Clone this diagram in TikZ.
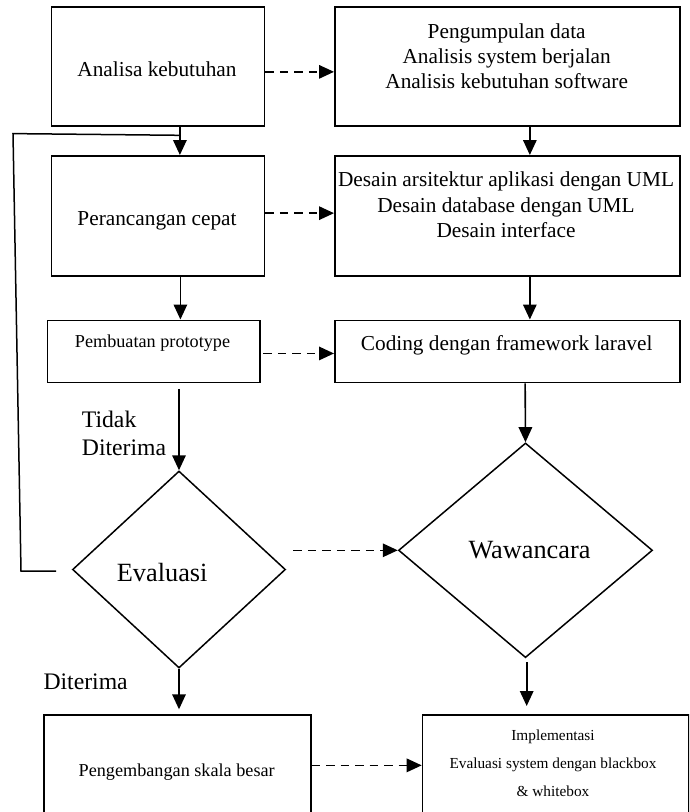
\documentclass[tikz,border=0pt]{standalone}
\usepackage{fontspec}
\setmainfont{Liberation Serif}
\usetikzlibrary{arrows.meta,shapes.geometric,calc}
\begin{document}
\begin{tikzpicture}[x=1pt,y=-1pt,
  box/.style={draw,line width=1.7pt,rectangle,inner sep=0pt,anchor=north west},
  dia/.style={draw,line width=1.5pt,diamond,inner sep=0pt},
  lbl/.style={inner sep=0pt,anchor=base},
  lblw/.style={inner sep=0pt,anchor=base west},
  flow/.style={line width=1.6pt,-{Triangle[length=15pt,width=13.5pt]}},
  dflow/.style={flow,dash pattern=on 8.5pt off 6pt},
  plain/.style={line width=1.5pt},
  fbig/.style={font=\fontsize{21.3}{25}\selectfont},
  fmid/.style={font=\fontsize{18.2}{22}\selectfont},
  fsmall/.style={font=\fontsize{15.3}{18}\selectfont},
  fcond/.style={font=\fontsize{23.7}{28}\selectfont},
  fdia/.style={font=\fontsize{26.3}{30}\selectfont}]
\clip (0,0) rectangle (689,812);
\fill[white] (0,0) rectangle (689,812);

% boxes
\node[box,minimum width=213.1pt,minimum height=119pt] (an) at (50.5,6) {};
\node[box,minimum width=345pt,minimum height=119pt] (pg) at (334,6) {};
\node[box,minimum width=213.1pt,minimum height=120pt] (pc) at (50.5,155) {};
\node[box,minimum width=345pt,minimum height=120pt] (ds) at (334,155) {};
\node[box,minimum width=212.4pt,minimum height=62.2pt] (pb) at (46.6,319.5) {};
\node[box,minimum width=345pt,minimum height=62.2pt] (co) at (334,319.5) {};
\node[box,minimum width=266.7pt,minimum height=100pt] (pe) at (43.3,714) {};
\node[box,minimum width=266.6pt,minimum height=100pt] (im) at (421.7,714) {};

% diamonds
\node[dia,minimum width=213pt,minimum height=197pt] (ev) at (179,569.5) {};
\node[dia,minimum width=254pt,minimum height=214.7pt] (ww) at (525.5,550.3) {};

% texts
\node[lbl,fbig] (t1) at (157,76) {Analisa kebutuhan};
\node[lbl,fbig] (t2a) at (506.7,38) {Pengumpulan data};
\node[lbl,fbig] (t2b) at (506.7,63.3) {Analisis system berjalan};
\node[lbl,fbig] (t2c) at (506.7,88.5) {Analisis kebutuhan software};
\node[lbl,fbig] (t3) at (157,225) {Perancangan cepat};
\node[lbl,fbig] (t4a) at (506,186.7) {Desain arsitektur aplikasi dengan UML};
\node[lbl,fbig] (t4b) at (506,212.3) {Desain database dengan UML};
\node[lbl,fbig] (t4c) at (506,237.5) {Desain interface};
\node[lbl,fmid] (t5) at (152.5,347.5) {Pembuatan prototype};
\node[lbl,fbig] (t6) at (506.7,350.7) {Coding dengan framework laravel};
\node[lblw,fcond] (t7a) at (81.7,427.3) {Tidak};
\node[lblw,fcond] (t7b) at (81.7,455) {Diterima};
\node[lblw,fdia] (t8) at (116.7,581.7) {Evaluasi};
\node[lblw,fdia] (t9) at (468.3,558.3) {Wawancara};
\node[lblw,fcond] (t10) at (43.3,689.3) {Diterima};
\node[lbl,fmid] (t11) at (176.7,776.7) {Pengembangan skala besar};
\node[lbl,fsmall] (t12a) at (553,740.7) {Implementasi};
\node[lbl,fsmall] (t12b) at (553,768.3) {Evaluasi system dengan blackbox};
\node[lbl,fsmall] (t12c) at (553,796.7) {\& whitebox};

% connector end points
\coordinate (s1) at ($(an.south)+(22,0)$);
\coordinate (s2) at ($(pg.south)+(22.5,0)$);
\coordinate (s3) at ($(pc.south)+(22.5,0)$);
\coordinate (s4) at ($(ds.south)+(22.5,0)$);
\coordinate (s5) at ($(ev.north |- pb.south)+(0,5.5)$);
\coordinate (s6) at ($(co.south)+(17.8,0)$);
\coordinate (s7) at ($(ww.south)+(1.2,4)$);
\coordinate (d1) at ($(an.east)+(0,5.5)$);
\coordinate (d2) at ($(pc.east)+(0,-2.7)$);
\coordinate (d3) at ($(pb.east)+(2.7,2)$);
\coordinate (d4) at ($(ev.east |- ww.west)+(7,0)$);
\coordinate (d5) at ($(pe.east)+(0,0.5)$);

% solid arrows
\draw[flow] (s1) -- (s1 |- pc.north);
\draw[flow] (s2) -- (s2 |- ds.north);
\draw[flow] (s3) -- (s3 |- pb.north);
\draw[flow] (s4) -- (s4 |- co.north);
\draw[flow] (s5) -- (ev.north);
\draw[flow] (s6) -- (ww.north);
\draw[flow,shorten >=4.7pt] (ev.south) -- (ev.south |- pe.north);
\draw[flow,shorten >=8pt] (s7) -- (s7 |- im.north);

% dashed arrows
\draw[dflow] (d1) -- (d1 -| pg.west);
\draw[dflow] (d2) -- (d2 -| ds.west);
\draw[dflow] (d3) -- (d3 -| co.west);
\draw[dflow] (d4) -- (ww.west);
\draw[dflow] (d5) -- (d5 -| im.west);

% feedback line
\coordinate (fb1) at ($(an.south)+(22,8.6)$);
\coordinate (fb2) at (13,133.6);
\coordinate (fb3) at (21,571);
\coordinate (fb4) at (56,571);
\draw[plain] (fb1) -- (fb2) -- (fb3) -- (fb4);
\end{tikzpicture}
\end{document}
